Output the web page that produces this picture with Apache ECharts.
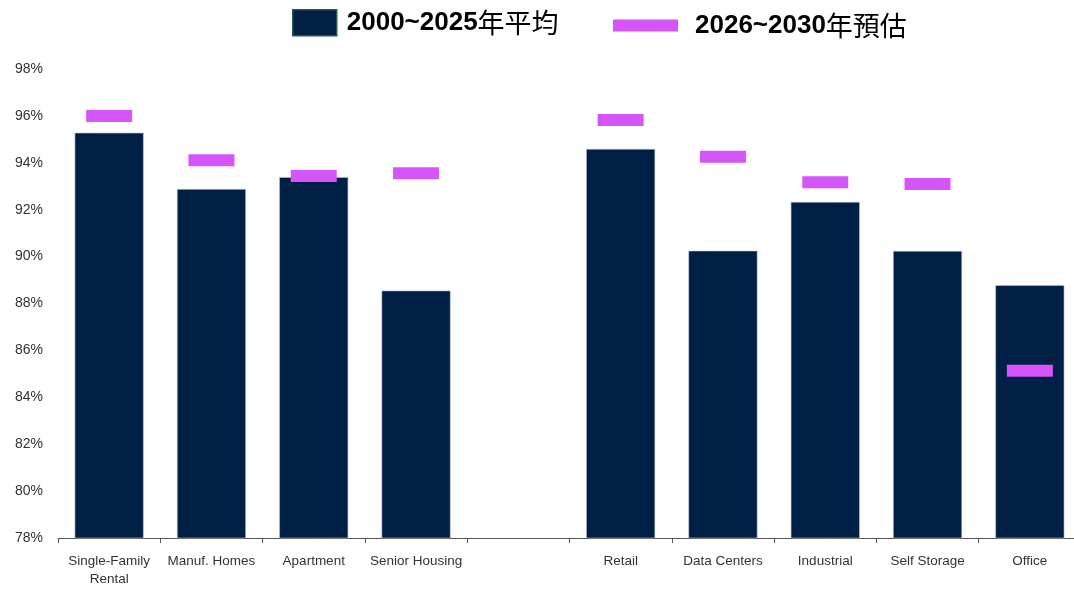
<!DOCTYPE html>
<html>
<head>
<meta charset="utf-8">
<script src="https://cdn.jsdelivr.net/npm/echarts@6/dist/echarts.min.js"></script>
<style>
html,body{margin:0;padding:0;background:#fff;overflow:hidden;}
#chart{width:1081px;height:589px;}
</style>
</head>
<body>
<div id="chart"></div>
<script>
const categories = ['Single-Family\nRental', 'Manuf. Homes', 'Apartment', 'Senior Housing', '', 'Retail', 'Data Centers', 'Industrial', 'Self Storage', 'Office'];
const avg2000_2025 = [95.28, 92.88, 93.39, 88.55, null, 94.59, 90.25, 92.33, 90.24, 88.78];
const forecast2026_2030 = [96.0, 94.11, 93.44, 93.55, null, 95.83, 94.26, 93.17, 93.10, 85.13];
const seriesNames = ['2000~2025年平均', '2026~2030年預估'];
const yTicks = { min: 78, max: 98, interval: 2 };

const font = '"Liberation Sans", Arial, "Noto Sans CJK TC", sans-serif';
const cjk = '"Noto Sans CJK TC", "Noto Sans CJK SC", sans-serif';
function legendRich(pad) {
  return {
    d: { fontSize: 26, fontWeight: 'bold', color: '#000', fontFamily: font, padding: [0, 0, 0, pad] },
    c: { fontSize: 27, fontWeight: 'normal', color: '#000', fontFamily: cjk }
  };
}
function legendFmt(name) {
  const m = name.match(/^([0-9~]+)(.*)$/);
  return '{d|' + m[1] + '}{c|' + m[2] + '}';
}
const chart = echarts.init(document.getElementById('chart'));
chart.setOption({
  animation: false,
  backgroundColor: '#ffffff',
  textStyle: { fontFamily: font },
  legend: [
    {
      data: [seriesNames[0]],
      left: 287, top: 4,
      itemWidth: 44, itemHeight: 26,
      icon: 'rect',
      itemStyle: { color: '#001f44', borderColor: '#2b5656', borderWidth: 1.5 },
      formatter: legendFmt,
      textStyle: { rich: legendRich(5) }
    },
    {
      data: [seriesNames[1]],
      left: 608, top: 7,
      itemWidth: 65, itemHeight: 12,
      icon: 'rect',
      itemStyle: { borderWidth: 0 },
      formatter: legendFmt,
      textStyle: { rich: legendRich(12) }
    }
  ],
  grid: { left: 58, top: 69, bottom: 51, right: 0, containLabel: false },
  xAxis: {
    type: 'category',
    data: categories,
    boundaryGap: true,
    axisLine: { lineStyle: { color: '#555', width: 1 } },
    axisTick: { show: true, length: 5, lineStyle: { color: '#555' } },
    axisLabel: { color: '#333', fontSize: 13.5, margin: 14, lineHeight: 18, interval: 0, fontFamily: font }
  },
  yAxis: {
    type: 'value',
    min: yTicks.min, max: yTicks.max, interval: yTicks.interval,
    axisLine: { show: false },
    axisTick: { show: false },
    splitLine: { show: false },
    axisLabel: { formatter: '{value}%', color: '#333', fontSize: 14, margin: 15, fontFamily: font }
  },
  series: [
    {
      name: seriesNames[0],
      type: 'bar',
      data: avg2000_2025,
      barWidth: 69,
      itemStyle: { color: '#001f44', borderColor: '#b8c2d0', borderWidth: 0.6 }
    },
    {
      name: seriesNames[1],
      type: 'scatter',
      data: forecast2026_2030,
      symbol: 'rect',
      symbolSize: [46, 12],
      itemStyle: { color: '#d655fa', opacity: 1 },
      z: 5
    }
  ]
});
</script>
</body>
</html>
